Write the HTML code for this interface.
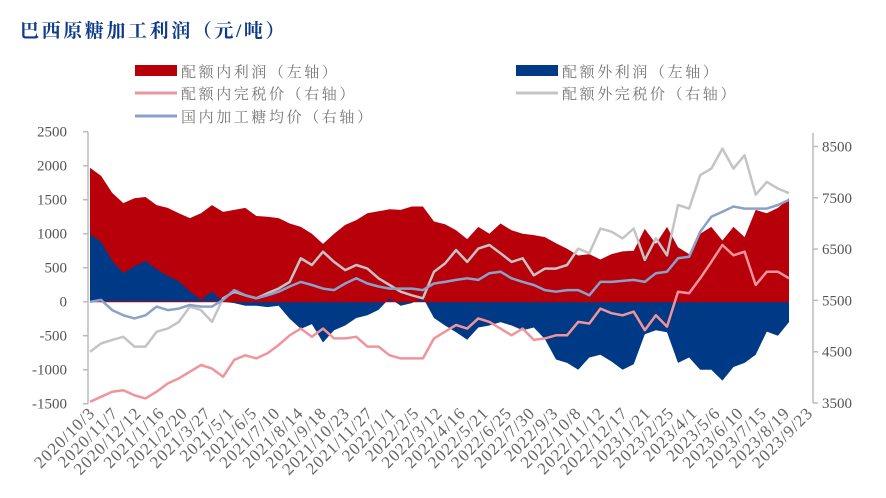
<!DOCTYPE html>
<html><head><meta charset="utf-8">
<style>
body{margin:0;background:#fff;}
svg{display:block;}
.t{font-family:"Liberation Serif","Noto Serif CJK SC",serif;}
</style></head>
<body>
<svg id="chart" width="886" height="498" viewBox="0 0 886 498" xmlns="http://www.w3.org/2000/svg">
<text x="20" y="37" font-family="'Liberation Serif','Noto Serif CJK SC',serif" font-size="19" font-weight="bold" fill="#0e3b8c" letter-spacing="2.6">巴西原糖加工利润（元/吨）</text>
<g font-family="'Liberation Serif','Noto Serif CJK SC',serif" font-size="15" fill="#777" letter-spacing="2.6">
 <g><rect x="135" y="65" width="42" height="11" fill="#b8000b"/><text x="181" y="77">配额内利润（左轴）</text></g>
 <g><rect x="516" y="65" width="42" height="11" fill="#003a86"/><text x="562" y="77">配额外利润（左轴）</text></g>
 <g><line x1="135" y1="93" x2="177" y2="93" stroke="#f0949c" stroke-width="3"/><text x="181" y="99">配额内完税价（右轴）</text></g>
 <g><line x1="516" y1="93" x2="558" y2="93" stroke="#c4c4c4" stroke-width="3"/><text x="562" y="99">配额外完税价（右轴）</text></g>
 <g><line x1="135" y1="116" x2="177" y2="116" stroke="#8aa2c8" stroke-width="3"/><text x="181" y="122">国内加工糖均价（右轴）</text></g>
</g>
<g id="plot"></g>
</svg>
<script>
const xLabels=["2020/10/3","2020/11/7","2020/12/12","2021/1/16","2021/2/20","2021/3/27","2021/5/1","2021/6/5","2021/7/10","2021/8/14","2021/9/18","2021/10/23","2021/11/27","2022/1/1","2022/2/5","2022/3/12","2022/4/16","2022/5/21","2022/6/25","2022/7/30","2022/9/3","2022/10/8","2022/11/12","2022/12/17","2023/1/21","2023/2/25","2023/4/1","2023/5/6","2023/6/10","2023/7/15","2023/8/19","2023/9/23"];
const leftTicks=[2500,2000,1500,1000,500,0,-500,-1000,-1500];
const rightTicks=[8500,7500,6500,5500,4500,3500];
const domesticProfit=[1970,1850,1600,1450,1520,1540,1420,1380,1300,1230,1300,1420,1320,1350,1380,1260,1250,1230,1150,1100,1000,850,1000,1130,1200,1300,1330,1360,1350,1400,1400,1180,1140,1050,920,1100,1000,1150,1050,1000,980,950,860,780,680,700,620,700,740,750,1070,850,1100,800,700,1000,1100,900,1100,950,1350,1300,1380,1520];
const foreignProfit=[990,880,600,420,520,600,480,380,300,150,30,150,0,-20,-60,-60,-80,-60,-250,-400,-330,-600,-420,-350,-240,-200,-120,50,-60,-20,60,-240,-350,-450,-560,-380,-350,-300,-350,-420,-380,-550,-850,-900,-1000,-820,-780,-880,-1000,-920,-480,-420,-450,-900,-820,-1000,-1000,-1160,-960,-900,-780,-440,-500,-300];
const domesticPrice=[3524,3620,3720,3750,3650,3590,3720,3880,3980,4110,4240,4170,4010,4340,4430,4370,4470,4630,4820,4950,4790,4950,4760,4760,4790,4600,4600,4430,4370,4370,4370,4760,4890,5020,4950,5150,5080,4950,4820,4950,4730,4760,4820,4820,5080,5050,5340,5250,5210,5280,4920,5210,4990,5670,5640,5930,6250,6580,6380,6450,5800,6060,6060,5930];
const foreignPrice=[4500,4660,4730,4790,4600,4600,4890,4950,5080,5380,5310,5080,5540,5670,5600,5540,5640,5730,5860,6320,6190,6450,6250,6090,6190,6120,5930,5800,5670,5600,5540,6060,6220,6480,6250,6510,6580,6420,6250,6320,5990,6120,6120,6190,6510,6420,6900,6840,6710,6900,6290,6710,6380,7360,7290,7940,8070,8460,8070,8330,7560,7810,7680,7590];
const nationalPrice=[5470,5510,5310,5210,5150,5210,5380,5310,5340,5410,5380,5380,5510,5700,5600,5540,5600,5670,5770,5860,5800,5730,5700,5830,5930,5830,5770,5730,5730,5730,5700,5830,5860,5900,5930,5900,6030,6060,5930,5860,5800,5700,5670,5700,5700,5600,5860,5860,5880,5900,5860,6030,6060,6320,6350,6840,7130,7230,7330,7290,7290,7290,7360,7460];

const NS="http://www.w3.org/2000/svg";
const plot=document.getElementById('plot');
const X0=90,XEND=789,AX0=90,AX1=808;
const yL=v=>301.7-v*0.068;
const yR=v=>403-(v-3500)*0.0513;
const xi=i=>X0+i*(XEND-X0)/(domesticProfit.length-1);
function mk(tag,attrs){const e=document.createElementNS(NS,tag);for(const k in attrs)e.setAttribute(k,attrs[k]);plot.appendChild(e);return e;}
function area(arr){let d=`M${xi(0)},${yL(0)}`;arr.forEach((v,i)=>d+=`L${xi(i).toFixed(1)},${yL(v).toFixed(1)}`);d+=`L${xi(arr.length-1)},${yL(0)}Z`;return d;}
function line(arr){return arr.map((v,i)=>(i?'L':'M')+xi(i).toFixed(1)+','+yR(v).toFixed(1)).join('');}

let a=mk('path',{d:area(domesticProfit),fill:'#b8000b'});


a=mk('path',{d:area(foreignProfit),fill:'#003a86'});


let z=mk('line',{x1:AX0,x2:XEND,y1:yL(0),y2:yL(0),stroke:'#b8000b','stroke-width':1});



[[domesticPrice,'#f0949c','domestic-price-line'],[foreignPrice,'#c4c4c4','foreign-price-line'],[nationalPrice,'#8aa2c8','national-sugar-price-line']].forEach(s=>{
 const p=mk('path',{d:line(s[0]),fill:'none',stroke:s[1],'stroke-width':2.5,'stroke-linejoin':'round'});
 
 
});

let ax=mk('line',{x1:88,x2:88,y1:yL(2500),y2:yL(-1500),stroke:'#bbb','stroke-width':1.5});


leftTicks.forEach(v=>{
 mk('line',{x1:83,x2:88,y1:yL(v),y2:yL(v),stroke:'#bbb','stroke-width':1.5});
 const t=mk('text',{x:67,y:yL(v)+5,'text-anchor':'end','font-size':15,fill:'#555',class:'t'});
 t.textContent=v;
 
 
});
ax=mk('line',{x1:813,x2:813,y1:133,y2:yR(3500),stroke:'#bbb','stroke-width':1.5});


rightTicks.forEach(v=>{
 mk('line',{x1:813,x2:818,y1:yR(v),y2:yR(v),stroke:'#bbb','stroke-width':1.5});
 const t=mk('text',{x:822,y:yR(v)+5,'font-size':15,fill:'#555',class:'t'});
 t.textContent=v;
 
 
});
xLabels.forEach((s,i)=>{
 const x=AX0+i*(AX1-AX0)/(xLabels.length-1)+6;
 const t=mk('text',{x:x,y:414,'text-anchor':'end','font-size':17,'letter-spacing':1,fill:'#666',class:'t',transform:`rotate(-45 ${x} 414)`});
 t.textContent=s;
 
 
});
</script>
</body></html>
